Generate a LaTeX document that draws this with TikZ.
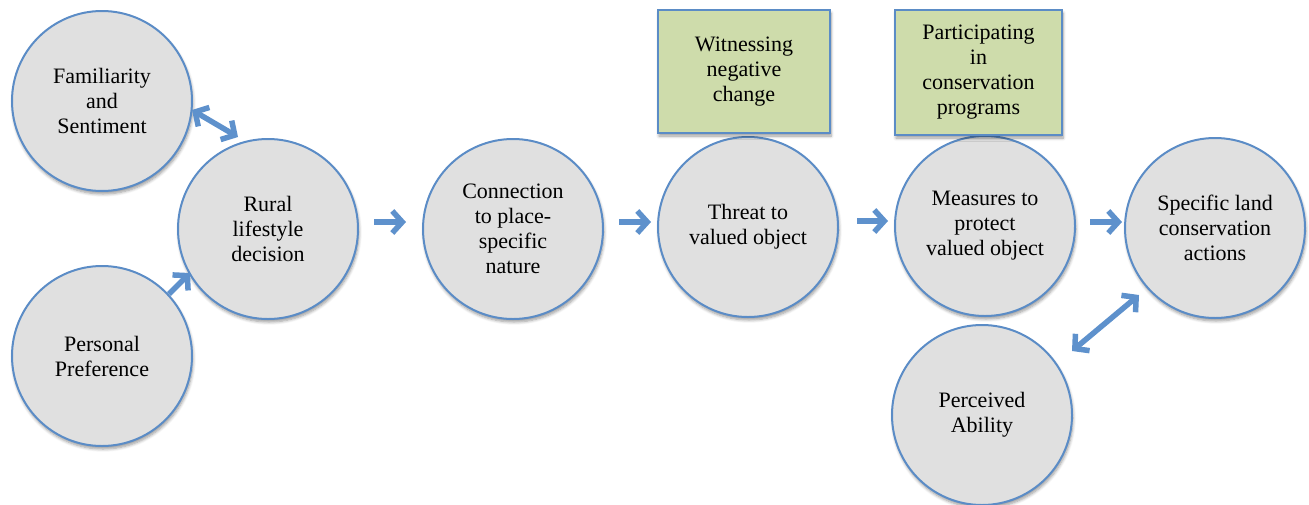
\documentclass[tikz,border=0pt]{standalone}
\usepackage{fontspec}
\setmainfont{Liberation Serif}
\usetikzlibrary{arrows.meta,shadows.blur}
\definecolor{edgeblue}{HTML}{5B8CC6}
\definecolor{arrowblue}{HTML}{5E91CC}
\definecolor{circfill}{HTML}{E0E0E0}
\definecolor{boxfill}{HTML}{CEDCAB}
\tikzset{
  softshadow/.style={blur shadow={shadow xshift=1pt, shadow yshift=-3pt,
      shadow blur radius=3pt, shadow blur steps=6, shadow opacity=40}},
  bubble/.style={circle, draw=edgeblue, line width=2pt, fill=circfill,
      minimum size=180pt, inner sep=0pt, align=center,
      font=\fontsize{22}{25}\selectfont, softshadow},
  factor/.style={rectangle, draw=edgeblue, line width=2pt, fill=boxfill,
      inner sep=0pt, align=center, font=\fontsize{22}{25}\selectfont, softshadow},
  barb/.tip={Straight Barb[length=10pt,width=22pt]},
  flow/.style={draw=arrowblue, line width=5.5pt, -barb},
  mutual/.style={draw=arrowblue, line width=5.5pt, barb-barb}
}
\begin{document}
\begin{tikzpicture}[x=1pt, y=-1pt]
  \useasboundingbox (0,0) rectangle (1309,504);

  % circles
  \node[bubble] (fam)    at (102,101) {Familiarity\\and\\Sentiment};
  \node[bubble] (rural)  at (268,229) {Rural\\lifestyle\\decision};
  \node[bubble] (pers)   at (102,356) {Personal\\Preference};
  \node[bubble] (conn)   at (513,229) {Connection\\to place-\\specific\\nature};
  \node[bubble] (threat) at (748,227) {Threat to\\valued object};
  \node[bubble] (meas)   at (985,226) {Measures to\\protect\\valued object};
  \node[bubble] (spec)   at (1215,228) {Specific land\\conservation\\actions};
  \node[bubble] (perc)   at (982,415) {Perceived\\Ability};

  % boxes above the chain
  \node[factor, minimum width=172pt, minimum height=123pt] (wit)  at (744,71.5)
      {Witnessing\\negative\\change};
  \node[factor, minimum width=167pt, minimum height=125pt] (part) at (978.5,72.5)
      {Participating\\in\\conservation\\programs};

  % main chain
  \draw[flow] ([shift={(106,-7)}]rural.center)  -- ([shift={(-107,-7)}]conn.center);
  \draw[flow] ([shift={(106,-7)}]conn.center)   -- ([shift={(-97,-5)}]threat.center);
  \draw[flow] ([shift={(109,-6)}]threat.center) -- ([shift={(-97,-5)}]meas.center);
  \draw[flow] ([shift={(105,-4)}]meas.center)   -- ([shift={(-93,-6)}]spec.center);

  % side influences
  \draw[mutual] ([shift={(90,9)}]fam.center) -- ([shift={(-30,-92)}]rural.center);
  \draw[flow]   ([shift={(67,-62)}]pers.center) -- ([shift={(-78,44)}]rural.center);
  \draw[mutual] ([shift={(90,-64)}]perc.center) -- ([shift={(-76,67)}]spec.center);
\end{tikzpicture}
\end{document}
